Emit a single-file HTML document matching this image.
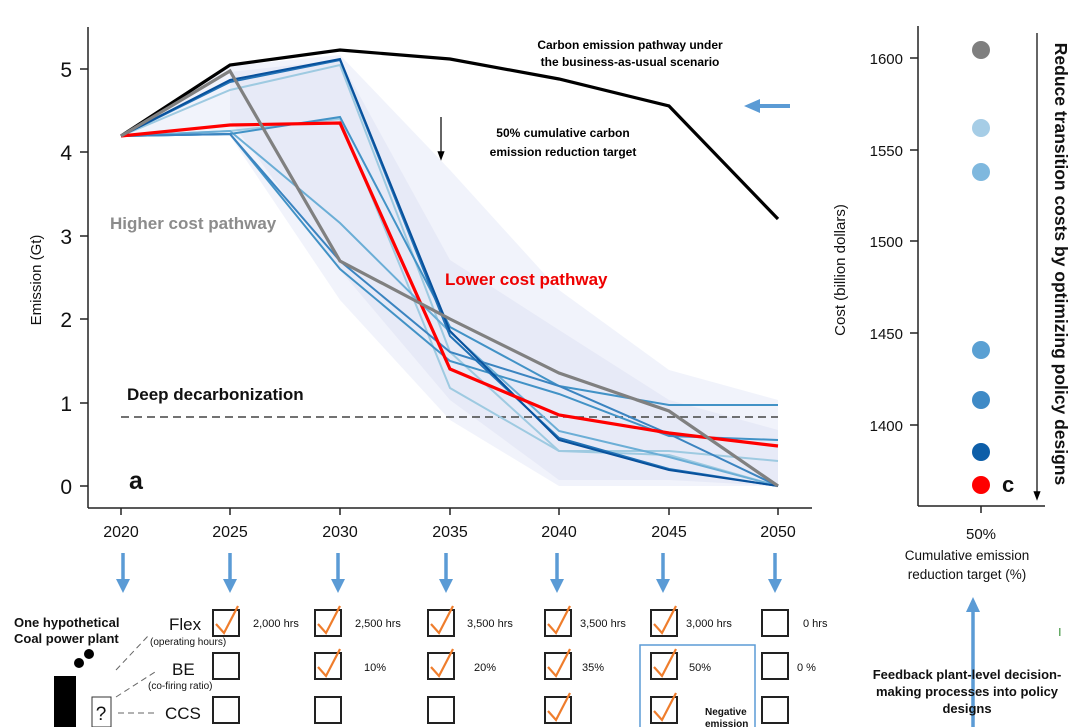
<!DOCTYPE html>
<html><head><meta charset="utf-8"><style>
body{margin:0;background:#fff;}
svg{display:block;font-family:"Liberation Sans",Arial,sans-serif;}
</style></head><body>
<svg width="1080" height="727" viewBox="0 0 1080 727" xmlns="http://www.w3.org/2000/svg">
<defs>
<marker id="ah" markerWidth="8" markerHeight="8" refX="4" refY="4" orient="auto"><path d="M0,1 L8,4 L0,7 z" fill="#000"/></marker>
</defs>
<!-- envelope -->
<polygon points="121,136 230,66 340,55 450,170 559,290 669,370 778,400 778,486 669,486 559,486 450,420 340,300 230,136" fill="#eef0fa" opacity="0.8"/>
<polygon points="230,72 340,60 450,260 559,330 669,400 778,430 778,486 669,480 559,480 450,400 340,270 230,120" fill="#e3e5f5" opacity="0.7"/>
<!-- axes -->
<line x1="88" y1="27" x2="88" y2="508" stroke="#222" stroke-width="1.5"/>
<line x1="88" y1="508" x2="812" y2="508" stroke="#222" stroke-width="1.5"/>
<g stroke="#222" stroke-width="1.5">
<line x1="80" y1="486" x2="88" y2="486"/><line x1="80" y1="403" x2="88" y2="403"/><line x1="80" y1="319" x2="88" y2="319"/><line x1="80" y1="236" x2="88" y2="236"/><line x1="80" y1="152" x2="88" y2="152"/><line x1="80" y1="69" x2="88" y2="69"/>
<line x1="121" y1="508" x2="121" y2="515"/><line x1="230" y1="508" x2="230" y2="515"/><line x1="340" y1="508" x2="340" y2="515"/><line x1="450" y1="508" x2="450" y2="515"/><line x1="559" y1="508" x2="559" y2="515"/><line x1="669" y1="508" x2="669" y2="515"/><line x1="778" y1="508" x2="778" y2="515"/>
</g>
<g font-size="21" text-anchor="end" fill="#111">
<text x="72" y="494">0</text><text x="72" y="411">1</text><text x="72" y="327">2</text><text x="72" y="244">3</text><text x="72" y="160">4</text><text x="72" y="77">5</text>
</g>
<g font-size="16" text-anchor="middle" fill="#111">
<text x="121" y="537">2020</text><text x="230" y="537">2025</text><text x="340" y="537">2030</text><text x="450" y="537">2035</text><text x="559" y="537">2040</text><text x="669" y="537">2045</text><text x="778" y="537">2050</text>
</g>
<text transform="translate(41,280) rotate(-90)" font-size="15" text-anchor="middle" fill="#111">Emission (Gt)</text>
<!-- dashed -->
<line x1="121" y1="417" x2="778" y2="417" stroke="#444" stroke-width="1.6" stroke-dasharray="8,5"/>
<!-- blue lines -->
<g fill="none" stroke-width="2">
<polyline stroke="#9ecae1" points="121,136 230,90 340,65 450,352 559,451 669,451 778,461"/>
<polyline stroke="#9ecae1" points="121,136 230,131 340,119 450,388 559,451 669,455 778,486"/>
<polyline stroke="#6baed6" points="121,136 230,131 340,223 450,332 559,431 669,457 778,486"/>
<polyline stroke="#4292c6" points="121,136 230,134 340,117 450,327 559,386 669,405 778,405"/>
<polyline stroke="#4292c6" points="121,136 230,134 340,269 450,361 559,394 669,436 778,440"/>
<polyline stroke="#3b84c0" points="121,136 230,134 340,261 450,352 559,386 669,434 778,486"/>
<polyline stroke="#2171b5" points="121,136 230,82 340,60 450,336 559,438 669,469 778,486"/>
<polyline stroke="#08519c" points="121,136 230,80 340,59 450,331 559,440 669,470 778,486"/>
</g>
<polyline fill="none" stroke="#000" stroke-width="3.2" points="121,136 230,65 340,50 450,59 559,79 669,106 778,219"/>
<polyline fill="none" stroke="#f00" stroke-width="3.2" points="121,136 230,125 340,123 450,369 559,415 669,433 778,446"/>
<polyline fill="none" stroke="#808080" stroke-width="3.2" points="121,136 230,71 340,261 450,319 559,373 669,411 778,486"/>
<!-- annotations -->
<g font-weight="bold" font-size="12" text-anchor="middle" fill="#000">
<text x="630" y="49">Carbon emission pathway under</text><text x="630" y="66">the business-as-usual scenario</text>
<text x="563" y="137">50% cumulative carbon</text><text x="563" y="156">emission reduction target</text>
</g>
<line x1="441" y1="117" x2="441" y2="156" stroke="#000" stroke-width="1.2" marker-end="url(#ah)"/>
<line x1="790" y1="106" x2="757" y2="106" stroke="#5b9bd5" stroke-width="4"/>
<polygon points="744,106 760,99 760,113" fill="#5b9bd5"/>
<text x="110" y="229" font-size="17" font-weight="bold" fill="#8c8c8c">Higher cost pathway</text>
<text x="445" y="285" font-size="17" font-weight="bold" fill="#e00">Lower cost pathway</text>
<text x="127" y="400" font-size="17" font-weight="bold" fill="#111">Deep decarbonization</text>
<text x="129" y="489" font-size="25" font-weight="bold" fill="#111">a</text>
<!-- right panel -->
<line x1="918" y1="26" x2="918" y2="506" stroke="#222" stroke-width="1.5"/>
<line x1="918" y1="506" x2="1045" y2="506" stroke="#222" stroke-width="1.5"/>
<line x1="981" y1="506" x2="981" y2="513" stroke="#222" stroke-width="1.5"/>
<g stroke="#222" stroke-width="1.5"><line x1="910" y1="58" x2="918" y2="58"/><line x1="910" y1="150" x2="918" y2="150"/><line x1="910" y1="241" x2="918" y2="241"/><line x1="910" y1="333" x2="918" y2="333"/><line x1="910" y1="425" x2="918" y2="425"/></g>
<g font-size="15" text-anchor="end" fill="#111"><text x="903" y="64">1600</text><text x="903" y="156">1550</text><text x="903" y="247">1500</text><text x="903" y="339">1450</text><text x="903" y="431">1400</text></g>
<text transform="translate(845,270) rotate(-90)" font-size="15" text-anchor="middle" fill="#111">Cost (billion dollars)</text>
<circle cx="981" cy="50" r="9" fill="#7f7f7f"/>
<circle cx="981" cy="128" r="9" fill="#a6cde6"/>
<circle cx="981" cy="172" r="9" fill="#7fb8de"/>
<circle cx="981" cy="350" r="9" fill="#5aa0d3"/>
<circle cx="981" cy="400" r="9" fill="#3f8ac6"/>
<circle cx="981" cy="452" r="9" fill="#0d5ea8"/>
<circle cx="981" cy="485" r="9" fill="#f00"/>
<text x="1002" y="492" font-size="22" font-weight="bold" fill="#111">c</text>
<line x1="1037" y1="33" x2="1037" y2="496" stroke="#000" stroke-width="1.2" marker-end="url(#ah)"/>
<text transform="translate(1055,264) rotate(90)" font-size="17.5" font-weight="bold" text-anchor="middle" fill="#111">Reduce transition costs by optimizing policy designs</text>
<text x="981" y="539" font-size="15" text-anchor="middle" fill="#111">50%</text>
<text x="967" y="560" font-size="13.5" text-anchor="middle" fill="#111">Cumulative emission</text>
<text x="967" y="579" font-size="13.5" text-anchor="middle" fill="#111">reduction target (%)</text>
<!-- bottom arrows -->
<g stroke="#5b9bd5" stroke-width="3.5">
<line x1="123" y1="553" x2="123" y2="582"/><line x1="230" y1="553" x2="230" y2="582"/><line x1="338" y1="553" x2="338" y2="582"/><line x1="446" y1="553" x2="446" y2="582"/><line x1="557" y1="553" x2="557" y2="582"/><line x1="663" y1="553" x2="663" y2="582"/><line x1="775" y1="553" x2="775" y2="582"/>
</g>
<g fill="#5b9bd5">
<polygon points="116,579 130,579 123,593"/><polygon points="223,579 237,579 230,593"/><polygon points="331,579 345,579 338,593"/><polygon points="439,579 453,579 446,593"/><polygon points="550,579 564,579 557,593"/><polygon points="656,579 670,579 663,593"/><polygon points="768,579 782,579 775,593"/>
</g>
<line x1="973" y1="727" x2="973" y2="612" stroke="#5b9bd5" stroke-width="3.5"/>
<polygon points="966,612 980,612 973,597" fill="#5b9bd5"/>
<rect x="1059" y="628" width="1.5" height="8" fill="#6a6"/>
<g font-size="13" font-weight="bold" text-anchor="middle" fill="#111">
<text x="967" y="679">Feedback plant-level decision-</text><text x="967" y="696">making processes into policy</text><text x="967" y="713">designs</text>
</g>
<!-- plant -->
<g font-size="13" font-weight="bold" fill="#111"><text x="14" y="627">One hypothetical</text><text x="14" y="643">Coal power plant</text></g>
<rect x="54" y="676" width="22" height="51" fill="#000"/>
<circle cx="79" cy="663" r="5" fill="#000"/><circle cx="89" cy="654" r="5" fill="#000"/>
<rect x="92" y="697" width="19" height="30" fill="#fff" stroke="#333"/>
<text x="101" y="720" font-size="19" text-anchor="middle" fill="#111">?</text>
<g stroke="#666" stroke-width="1" stroke-dasharray="6,4" fill="none"><line x1="116" y1="670" x2="148" y2="636"/><line x1="116" y1="697" x2="155" y2="672"/><line x1="118" y1="713" x2="158" y2="713"/></g>
<g font-size="17" fill="#111"><text x="169" y="630">Flex</text><text x="172" y="675">BE</text><text x="165" y="719">CCS</text></g>
<g font-size="10" fill="#111"><text x="150" y="645">(operating hours)</text><text x="148" y="689">(co-firing ratio)</text></g>
<!-- boxes -->
<g fill="#fff" stroke="#222" stroke-width="2">
<rect x="213" y="610" width="26" height="26"/><rect x="213" y="653" width="26" height="26"/><rect x="213" y="697" width="26" height="26"/>
<rect x="315" y="610" width="26" height="26"/><rect x="315" y="653" width="26" height="26"/><rect x="315" y="697" width="26" height="26"/>
<rect x="428" y="610" width="26" height="26"/><rect x="428" y="653" width="26" height="26"/><rect x="428" y="697" width="26" height="26"/>
<rect x="545" y="610" width="26" height="26"/><rect x="545" y="653" width="26" height="26"/><rect x="545" y="697" width="26" height="26"/>
<rect x="651" y="610" width="26" height="26"/><rect x="651" y="653" width="26" height="26"/><rect x="651" y="697" width="26" height="26"/>
<rect x="762" y="610" width="26" height="26"/><rect x="762" y="653" width="26" height="26"/><rect x="762" y="697" width="26" height="26"/>
</g>
<rect x="640" y="645" width="115" height="90" fill="none" stroke="#5b9bd5" stroke-width="1.5"/>
<g fill="none" stroke="#ef7d2c" stroke-width="2.2">
<path d="M216,624 L224,633 L238,606"/>
<path d="M318,624 L326,633 L340,606"/><path d="M318,667 L326,676 L340,649"/>
<path d="M431,624 L439,633 L453,606"/><path d="M431,667 L439,676 L453,649"/>
<path d="M548,624 L556,633 L570,606"/><path d="M548,667 L556,676 L570,649"/><path d="M548,711 L556,720 L570,693"/>
<path d="M654,624 L662,633 L676,606"/><path d="M654,667 L662,676 L676,649"/><path d="M654,711 L662,720 L676,693"/>
</g>
<g font-size="11" fill="#111">
<text x="253" y="627">2,000 hrs</text><text x="355" y="627">2,500 hrs</text><text x="467" y="627">3,500 hrs</text><text x="580" y="627">3,500 hrs</text><text x="686" y="627">3,000 hrs</text><text x="803" y="627">0 hrs</text>
<text x="364" y="671">10%</text><text x="474" y="671">20%</text><text x="582" y="671">35%</text><text x="689" y="671">50%</text><text x="797" y="671">0 %</text>
</g>
<g font-size="10" font-weight="bold" fill="#111"><text x="705" y="715">Negative</text><text x="705" y="727">emission</text></g>
</svg>
</body></html>
